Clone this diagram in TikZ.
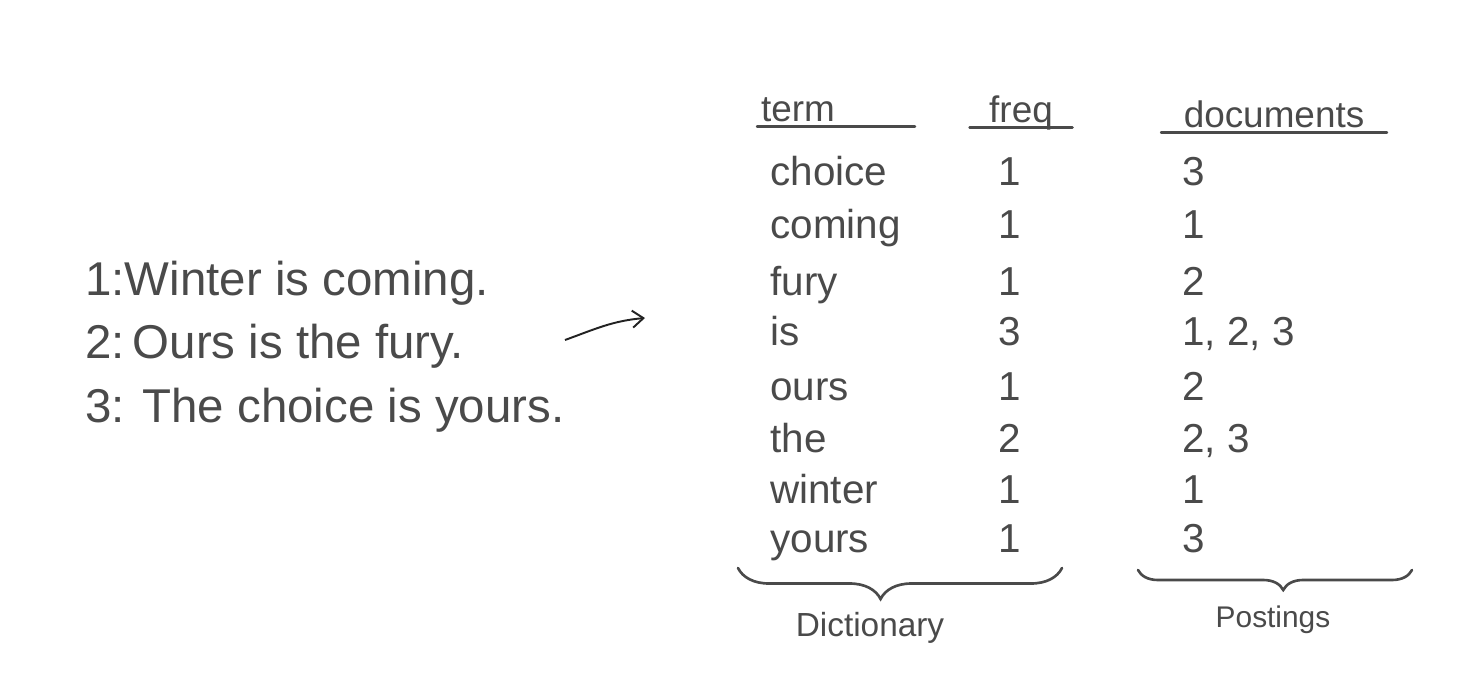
\documentclass[tikz,border=0pt]{standalone}
\usepackage{fontspec}
\setmainfont{Liberation Sans}
\usetikzlibrary{positioning, arrows.meta, decorations.pathreplacing}
\definecolor{ink}{RGB}{74,74,74}
\definecolor{pen}{RGB}{34,34,34}

\begin{document}
\begin{tikzpicture}[
    x=0.02cm, y=-0.02cm,
    sentence/.style={anchor=base west, text=ink, inner sep=0pt,
      font=\fontsize{27}{31}\selectfont},
    cell/.style={text=ink, inner sep=0pt, font=\fontsize{23}{27}\selectfont},
    head/.style={text=ink, inner xsep=0pt, inner ysep=1pt,
      text height=0.42cm, text depth=0.06cm, font=\fontsize{21}{25}\selectfont},
    rule/.style={draw=ink, line width=1.6pt, line cap=round},
    curly/.style={draw=ink, line width=1.5pt, line cap=round,
      decoration={brace, mirror}, decorate},
    caption/.style={text=ink, inner sep=0pt},
  ]
    \useasboundingbox[fill=white] (0,0) rectangle (1478,690);

    % the three documents
    \node[sentence] (doc1) at (85,295) {1:Winter is coming.};
    \node[sentence] (doc2) at (85,358) {2:\,Ours is the fury.};
    \node[sentence] (doc3) at (85,422) {3: The choice is yours.};

    \coordinate (arrowFrom) at (565,340);
    \coordinate (arrowTo) at (645,318);
    \draw[pen, line width=1.1pt, -{Straight Barb[length=2.2mm, width=3.4mm]}]
      (arrowFrom) to[out=20, in=185] (arrowTo);

    % column heads
    \node[head, text width=3.14cm, align=left] (hterm) at (836,112) {\hspace*{2pt}term};
    \node[head, minimum width=2.04cm] (hfreq) at (1021,113) {freq};
    \node[head, minimum width=4.5cm] (hdocs) at (1274,118) {documents};
    \foreach \h in {hterm, hfreq, hdocs}
      \draw[rule] (\h.south west) -- (\h.south east);

    % rows of the index
    \foreach \term/\freq/\docs/\ypos [count=\i] in {choice/1/3/185,
        coming/1/1/238, fury/1/2/295, is/3/{1, 2, 3}/345, ours/1/2/400,
        the/2/{2, 3}/452, winter/1/1/503, yours/1/3/552} {
      \node[cell, anchor=base west] (term-\i) at (770,\ypos) {\term};
      \node[cell, anchor=base] (freq-\i) at (1010,\ypos) {\freq};
      \node[cell, anchor=base west] (docs-\i) at (1182,\ypos) {\docs};
    }

    % braces
    \coordinate (dictL) at (738,568);
    \coordinate (dictR) at (1062,568);
    \coordinate (postL) at (1138,570);
    \coordinate (postR) at (1412,570);
    \draw[curly, decoration={amplitude=0.62cm, aspect=0.44}] (dictL) -- (dictR);
    \draw[curly, decoration={amplitude=0.4cm, aspect=0.53}] (postL) -- (postR);
    \node[caption, font=\fontsize{19}{23}\selectfont] (dict) at (870,628) {Dictionary};
    \node[caption, font=\fontsize{17}{21}\selectfont] (post) at (1273,620) {Postings};
  \end{tikzpicture}
\end{document}
